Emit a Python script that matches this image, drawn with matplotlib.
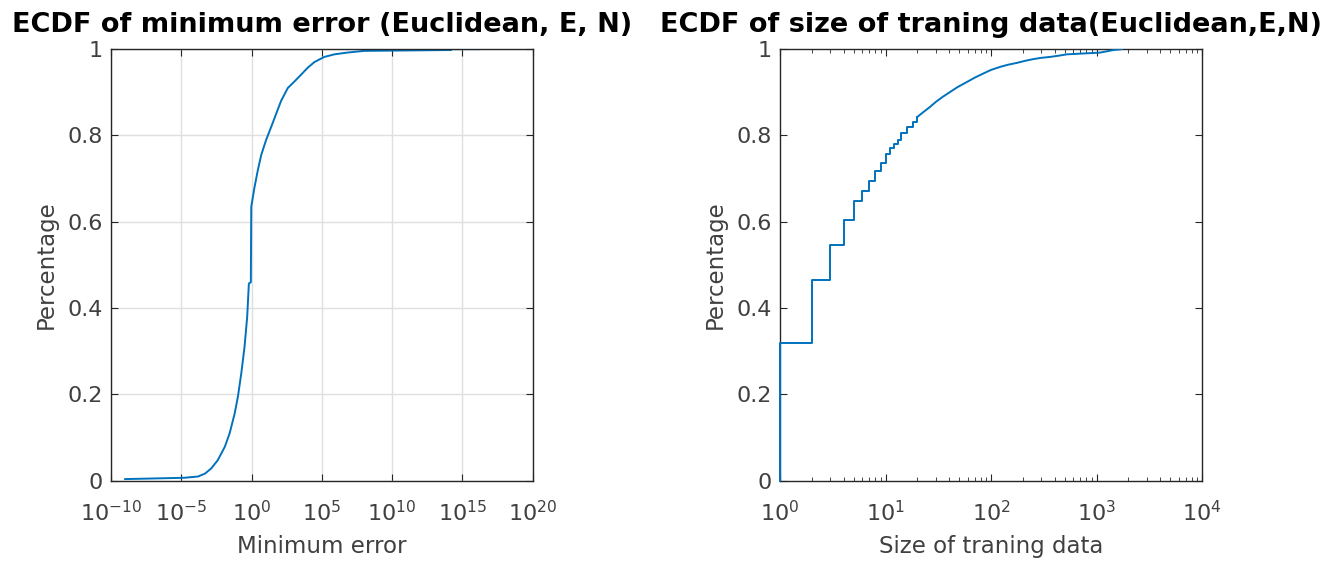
# ECDF plots (minimum error / size of training data)
import numpy as np
import matplotlib.pyplot as plt
from matplotlib.ticker import LogLocator, NullLocator, FixedLocator

plt.rcParams['font.family'] = ['DejaVu Sans']
plt.rcParams['axes.unicode_minus'] = False

# --- data -----------------------------------------------------------------
# left: log10(minimum error) and cumulative fraction
err_log10 = [-9.0, -4.8, -3.8, -3.3, -2.86, -2.4, -1.9, -1.56, -1.2, -0.97,
             -0.73, -0.5, -0.31, -0.19, -0.05, -0.02, 0.21, 0.45, 0.69, 1.04,
             1.4, 1.75, 2.1, 2.58, 3.05, 3.5, 4.0, 4.47, 5.18, 5.9, 6.8, 8.0,
             14.2, 14.2, 16.2]
err_cdf = [0.004, 0.007, 0.010, 0.017, 0.029, 0.048, 0.079, 0.110, 0.156,
           0.195, 0.249, 0.310, 0.380, 0.457, 0.460, 0.635, 0.680, 0.720,
           0.755, 0.790, 0.820, 0.850, 0.880, 0.910, 0.925, 0.940, 0.957,
           0.970, 0.982, 0.988, 0.992, 0.996, 0.998, 1.000, 1.000]

# right: size of training data and cumulative fraction
# small sizes (clear steps)
size_small = [1, 1, 2, 3, 4, 5, 6, 7, 8, 9, 10, 11, 12, 13, 14, 16, 18, 20]
cdf_small = [0.0, 0.320, 0.465, 0.547, 0.604, 0.649, 0.672, 0.695, 0.718,
             0.737, 0.756, 0.770, 0.780, 0.789, 0.806, 0.820, 0.832, 0.843]
# larger sizes (dense, nearly smooth)
size_tail = [20, 23, 26, 30, 35, 41, 48, 59, 70, 85, 100, 122, 145, 174, 210,
             252, 300, 362, 440, 523, 630, 747, 900, 1077, 1250, 1444, 1740]
cdf_tail = [0.843, 0.855, 0.865, 0.878, 0.890, 0.901, 0.912, 0.924, 0.934,
            0.944, 0.952, 0.959, 0.964, 0.968, 0.973, 0.977, 0.980, 0.982,
            0.985, 0.988, 0.989, 0.990, 0.991, 0.992, 0.995, 0.998, 1.000]

y_ticks = [0, 0.2, 0.4, 0.6, 0.8, 1]
y_labels = ['0', '0.2', '0.4', '0.6', '0.8', '1']

line_col = '#0072BD'
ax_col = '#262626'
txt_col = '#404040'


def style_axes(ax):
    for s in ax.spines.values():
        s.set_color(ax_col)
        s.set_linewidth(1.0)
    ax.tick_params(which='both', direction='in', top=True, right=True,
                   colors=ax_col, labelcolor=txt_col, labelsize=16)
    ax.tick_params(axis='x', pad=14)
    ax.tick_params(axis='y', pad=6)
    ax.tick_params(which='major', length=5)
    ax.tick_params(which='minor', length=3)
    ax.set_ylim(0, 1)
    ax.set_yticks(y_ticks)
    ax.set_yticklabels(y_labels)


fig = plt.figure(figsize=(13.38, 5.65), dpi=100, facecolor='w')
ax1 = fig.add_axes([0.083, 0.149, 0.315, 0.764])
ax2 = fig.add_axes([0.583, 0.149, 0.3155, 0.764])

# left panel
ax1.plot(10.0 ** np.array(err_log10), err_cdf, color=line_col, lw=1.4)
ax1.set_xscale('log')
ax1.set_xlim(1e-10, 1e20)
ax1.xaxis.set_major_locator(FixedLocator([10.0 ** k for k in range(-10, 21, 5)]))
ax1.xaxis.set_minor_locator(NullLocator())
style_axes(ax1)
ax1.grid(True, color='#dfdfdf', lw=1.0)
ax1.set_axisbelow(True)
ax1.set_title('ECDF of minimum error (Euclidean, E, N)', fontsize=19.5,
              fontweight='bold', pad=12)
ax1.set_xlabel('Minimum error', fontsize=16.5, color=txt_col, labelpad=7)
ax1.set_ylabel('Percentage', fontsize=16.5, color=txt_col, labelpad=7)

# right panel
ax2.plot(size_small, cdf_small, color=line_col, lw=1.4, drawstyle='steps-post',
         zorder=3, clip_on=False)
ax2.plot(size_tail, cdf_tail, color=line_col, lw=1.4, zorder=3)
ax2.set_xscale('log')
ax2.set_xlim(1, 1e4)
ax2.xaxis.set_major_locator(LogLocator(base=10, numticks=10))
ax2.xaxis.set_minor_locator(LogLocator(base=10, subs=np.arange(2, 10), numticks=10))
style_axes(ax2)
ax2.set_title('ECDF of size of traning data(Euclidean,E,N)', fontsize=19.5,
              fontweight='bold', pad=12)
ax2.set_xlabel('Size of traning data', fontsize=16.5, color=txt_col, labelpad=7)
ax2.set_ylabel('Percentage', fontsize=16.5, color=txt_col, labelpad=7)

plt.savefig('out.png', dpi=100, facecolor='w')
